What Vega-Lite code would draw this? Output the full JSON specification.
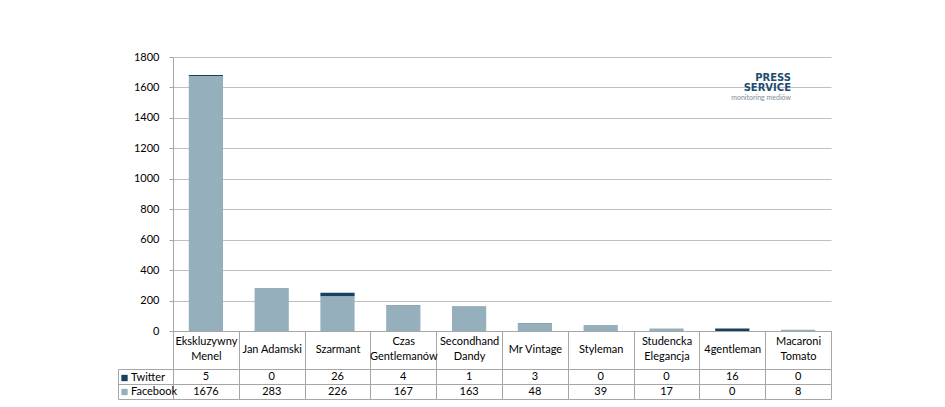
{
  "$schema": "https://vega.github.io/schema/vega-lite/v6.json",
  "background": "white",
  "padding": {"left": 117, "top": 51, "right": 5, "bottom": 5},
  "config": {
    "font": "Lato",
    "view": {"stroke": null},
    "axis": {"labelFont": "Lato", "labelFontSize": 11, "labelColor": "#000000"}
  },
  "data": {
    "values": [
      {"category": "Ekskluzywny Menel", "series": "Twitter", "value": 5},
      {"category": "Jan Adamski", "series": "Twitter", "value": 0},
      {"category": "Szarmant", "series": "Twitter", "value": 26},
      {"category": "Czas Gentlemanów", "series": "Twitter", "value": 4},
      {"category": "Secondhand Dandy", "series": "Twitter", "value": 1},
      {"category": "Mr Vintage", "series": "Twitter", "value": 3},
      {"category": "Styleman", "series": "Twitter", "value": 0},
      {"category": "Studencka Elegancja", "series": "Twitter", "value": 0},
      {"category": "4gentleman", "series": "Twitter", "value": 16},
      {"category": "Macaroni Tomato", "series": "Twitter", "value": 0},
      {"category": "Ekskluzywny Menel", "series": "Facebook", "value": 1676},
      {"category": "Jan Adamski", "series": "Facebook", "value": 283},
      {"category": "Szarmant", "series": "Facebook", "value": 226},
      {"category": "Czas Gentlemanów", "series": "Facebook", "value": 167},
      {"category": "Secondhand Dandy", "series": "Facebook", "value": 163},
      {"category": "Mr Vintage", "series": "Facebook", "value": 48},
      {"category": "Styleman", "series": "Facebook", "value": 39},
      {"category": "Studencka Elegancja", "series": "Facebook", "value": 17},
      {"category": "4gentleman", "series": "Facebook", "value": 0},
      {"category": "Macaroni Tomato", "series": "Facebook", "value": 8}
    ]
  },
  "spacing": -6,
  "vconcat": [
    {
      "width": 658,
      "height": 274,
      "title": {
        "text": ["PRESS", "SERVICE"],
        "subtitle": "monitoring mediów",
        "anchor": "end",
        "frame": "group",
        "orient": "top",
        "offset": -50,
        "dx": -40,
        "font": "DejaVu Sans",
        "fontSize": 10,
        "fontWeight": "bold",
        "color": "#1e4d70",
        "lineHeight": 10,
        "subtitleFont": "Lato",
        "subtitleFontSize": 7,
        "subtitleColor": "#7f8c95",
        "subtitlePadding": 1
      },
      "mark": {"type": "bar"},
      "encoding": {
        "x": {
          "field": "category",
          "type": "nominal",
          "sort": null,
          "scale": {"paddingInner": 0.48, "paddingOuter": 0.24},
          "axis": {
            "title": null,
            "labels": false,
            "ticks": false,
            "domainColor": "#a6a6a6",
            "minExtent": 0,
            "maxExtent": 0
          }
        },
        "y": {
          "field": "value",
          "type": "quantitative",
          "aggregate": "sum",
          "stack": "zero",
          "scale": {"domain": [0, 1800]},
          "axis": {
            "title": null,
            "values": [0, 200, 400, 600, 800, 1000, 1200, 1400, 1600, 1800],
            "format": "d",
            "gridColor": "#bfbfbf",
            "domainColor": "#a6a6a6",
            "tickColor": "#a6a6a6",
            "tickSize": 4,
            "labelPadding": 10
          }
        },
        "color": {
          "field": "series",
          "type": "nominal",
          "scale": {"domain": ["Twitter", "Facebook"], "range": ["#17415f", "#96afbd"]},
          "legend": {
            "title": null,
            "orient": "none",
            "legendX": -54,
            "legendY": 315.5,
            "symbolType": "square",
            "symbolSize": 40,
            "symbolStrokeWidth": 0,
            "labelFontSize": 11,
            "labelFont": "Lato",
            "labelOffset": 1,
            "rowPadding": 2,
            "padding": 0
          }
        },
        "order": {"field": "series", "sort": "ascending"}
      }
    },
    {
      "width": 658,
      "height": 30,
      "encoding": {
        "x": {
          "field": "category",
          "type": "nominal",
          "sort": null,
          "scale": {"paddingInner": 0, "paddingOuter": 0},
          "axis": {
            "title": null,
            "orient": "top",
            "labelAngle": 0,
            "labelExpr": "datum.value ? (length(datum.value) > 12 ? split(datum.value, ' ') : datum.value) : ''",
            "labelLineHeight": 15,
            "labelBaseline": "middle",
            "labelPadding": {"condition": {"test": "(datum.value + '').length > 12", "value": -10}, "value": -18},
            "labelLimit": 0,
            "domain": false,
            "ticks": true,
            "tickBand": "extent",
            "tickSize": 38,
            "tickColor": "#a6a6a6",
            "grid": true,
            "gridColor": "#a6a6a6",
            "minExtent": 38,
            "maxExtent": 38
          }
        },
        "text": {"field": "value", "type": "quantitative"}
      },
      "layer": [
        {
          "mark": {"type": "text", "fontSize": 11, "font": "Lato", "color": "#000000"},
          "encoding": {
            "y": {
              "field": "series",
              "type": "nominal",
              "sort": ["Twitter", "Facebook"],
              "scale": {"paddingInner": 0, "paddingOuter": 0},
              "axis": {
                "title": null,
                "labels": false,
                "grid": true,
                "tickBand": "extent",
                "tickSize": 55,
                "tickColor": "#a6a6a6",
                "gridColor": "#a6a6a6",
                "domainColor": "#a6a6a6"
              }
            }
          }
        },
        {
          "mark": {"type": "text", "opacity": 0},
          "encoding": {
            "y": {
              "field": "series",
              "type": "nominal",
              "sort": ["Twitter", "Facebook"],
              "axis": {
                "title": null,
                "orient": "left",
                "offset": 55,
                "labels": false,
                "ticks": false,
                "grid": false,
                "domainColor": "#a6a6a6"
              }
            }
          }
        }
      ],
      "resolve": {"axis": {"y": "independent"}}
    }
  ]
}
